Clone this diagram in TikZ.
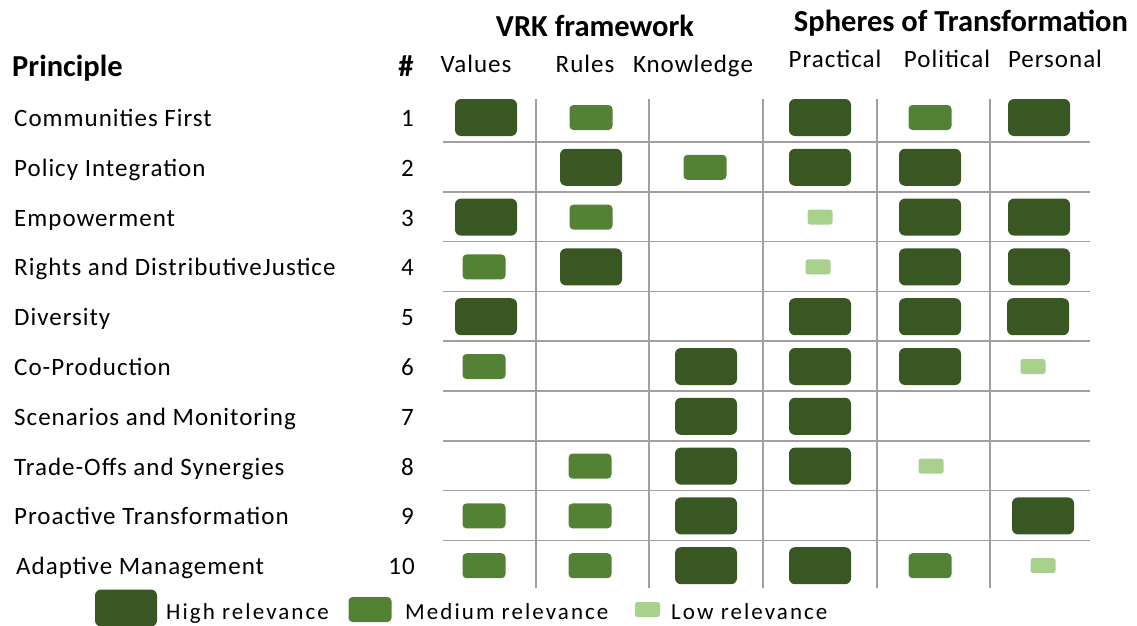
\documentclass[tikz,border=0pt]{standalone}
\usepackage{fontspec}
\setmainfont{Carlito}
\newfontfamily\bodyf{Carlito}[LetterSpace=4]
\newfontfamily\legf{Carlito}[LetterSpace=9]
\definecolor{hi}{HTML}{385723}
\definecolor{me}{HTML}{548235}
\definecolor{lo}{HTML}{A9D18E}
\definecolor{gridc}{HTML}{A0A0A0}
\tikzset{
  hibox/.style={fill=hi, draw=none, rounded corners=6pt, minimum width=62pt, minimum height=37pt, inner sep=0pt},
  mebox/.style={fill=me, draw=none, rounded corners=4pt, minimum width=43pt, minimum height=25pt, inner sep=0pt},
  lobox/.style={fill=lo, draw=none, rounded corners=2.5pt, minimum width=25pt, minimum height=15pt, inner sep=0pt},
  rowtext/.style={anchor=base west, inner sep=0pt, font=\bodyf\fontsize{25}{30}\selectfont},
  numtext/.style={anchor=base east, inner sep=0pt, font=\bodyf\fontsize{25}{30}\selectfont},
  coltext/.style={anchor=base, inner sep=0pt, font=\bodyf\fontsize{25}{30}\selectfont},
  headtext/.style={anchor=base, inner sep=0pt, font=\bfseries\fontsize{30.5}{36}\selectfont},
  legtext/.style={anchor=base west, inner sep=0pt, font=\legf\fontsize{23}{28}\selectfont},
  gridline/.style={draw=gridc, line width=1.6pt}
}
\begin{document}
\begin{tikzpicture}[x=1pt,y=-1pt]
\useasboundingbox (0,0) rectangle (1137,626);
% grid
\foreach \gx in {536,649,763,877,990}
  \draw[gridline] (\gx,99) -- (\gx,588);
\foreach \k in {0,...,8}
  \draw[gridline] (443,{142+49.8*\k}) -- (1090,{142+49.8*\k});
% headers
\node[headtext, anchor=base west] (hprin) at (12,77) {Principle};
\node[headtext] (hnum) at (406,76) {\#};
\node[headtext] (hvrk) at (595,37) {VRK framework};
\node[headtext] (hsph) at (961,32) {Spheres of Transformation};
\node[coltext] (cval) at (476,72) {Values};
\node[coltext] (crul) at (585,72) {Rules};
\node[coltext] (ckno) at (693,72) {Knowledge};
\node[coltext] (cpra) at (835,67) {Practical};
\node[coltext] (cpol) at (947,67) {Political};
\node[coltext] (cper) at (1055,67) {Personal};
% rows
\foreach \rr/\lab in {1/Communities First, 2/Policy Integration, 3/Empowerment, 4/Rights and DistributiveJustice, 5/Diversity, 6/Co-Production, 7/Scenarios and Monitoring, 8/Trade-Offs and Synergies, 9/Proactive Transformation}{
  \node[rowtext] (lab\rr) at (14,{126.5+49.8*(\rr-1)}) {\lab};
  \node[numtext] (num\rr) at (414,{126.5+49.8*(\rr-1)}) {\rr};
}
\node[rowtext] (lab10) at (16,{126.5+49.8*9}) {Adaptive Management};
\node[numtext] (num10) at (415,{126.5+49.8*9}) {10};
% cells
\foreach \rr/\cc/\xx/\tt in {
  1/V/486/hi, 1/R/591/me, 1/Pr/820/hi, 1/Po/930/me, 1/Pe/1039/hi,
  2/R/591/hi, 2/K/705/me, 2/Pr/820/hi, 2/Po/930/hi,
  3/V/486/hi, 3/R/591/me, 3/Pr/820/lo, 3/Po/930/hi, 3/Pe/1039/hi,
  4/V/484/me, 4/R/591/hi, 4/Pr/818/lo, 4/Po/930/hi, 4/Pe/1039/hi,
  5/V/486/hi, 5/Pr/820/hi, 5/Po/930/hi, 5/Pe/1038/hi,
  6/V/484/me, 6/K/706/hi, 6/Pr/820/hi, 6/Po/930/hi, 6/Pe/1033/lo,
  7/K/706/hi, 7/Pr/820/hi,
  8/R/590/me, 8/K/706/hi, 8/Pr/820/hi, 8/Po/931/lo,
  9/V/484/me, 9/R/590/me, 9/K/706/hi, 9/Pe/1043/hi,
  10/V/484/me, 10/R/590/me, 10/K/706/hi, 10/Pr/820/hi, 10/Po/930/me, 10/Pe/1043/lo}{
  \node[\tt box] (c\rr\cc) at (\xx,{117.5+49.8*(\rr-1)}) {};
}
% legend
\node[hibox] (lhi) at (126,608) {};
\node[legtext] (lhit) at (166,619) {High relevance};
\node[mebox] (lme) at (370,609.5) {};
\node[legtext] (lmet) at (405,619) {Medium relevance};
\node[lobox] (llo) at (647.5,609.5) {};
\node[legtext] (llot) at (671,619) {Low relevance};
\end{tikzpicture}
\end{document}
